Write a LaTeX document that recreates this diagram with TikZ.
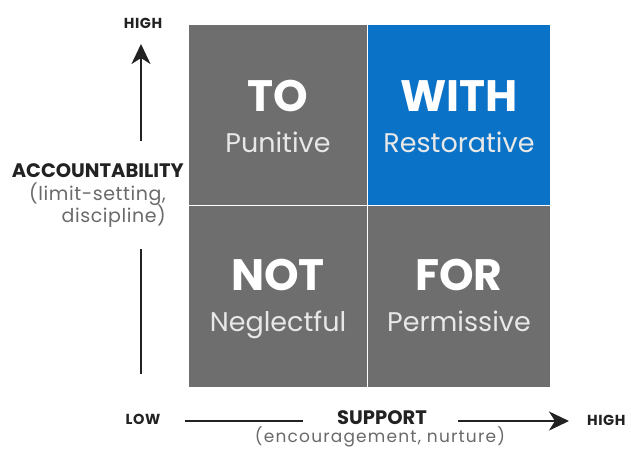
\documentclass[tikz,border=0pt]{standalone}
\usepackage{fontspec}
\setmainfont{Poppins}
\usetikzlibrary{arrows.meta}
\definecolor{cellgray}{HTML}{6E6E6F}
\definecolor{cellblue}{HTML}{0B73C7}
\definecolor{labdark}{HTML}{222222}
\definecolor{labgray}{HTML}{6A6A6A}
\definecolor{subwhite}{HTML}{E8E8E8}
\tikzset{
  cell/.style={draw=none, inner sep=0pt, anchor=north west},
  title/.style={anchor=base, text=white, inner sep=0pt, font=\fontsize{44}{44}\selectfont\bfseries},
  sub/.style={anchor=base, text=subwhite, inner sep=0pt, font=\fontsize{27}{27}\selectfont},
  axisbig/.style={inner sep=0pt, text=labdark, font=\fontsize{19.5}{19.5}\selectfont\bfseries},
  axissmall/.style={inner sep=0pt, text=labdark, font=\fontsize{14.5}{14.5}\selectfont\bfseries\addfontfeature{LetterSpace=4}},
  axissub/.style={inner sep=0pt, text=labgray, font=\fontsize{19}{19}\selectfont\addfontfeature{LetterSpace=3}},
  axissubb/.style={inner sep=0pt, text=labgray, font=\fontsize{17}{17}\selectfont\addfontfeature{LetterSpace=7}},
  axisline/.style={draw=labdark, line width=2.4pt},
  axisarrow/.style={axisline, -{Stealth[length=20pt, width=19pt, inset=6pt]}}
}
\begin{document}
\begin{tikzpicture}[x=1pt, y=-1pt]
\useasboundingbox (0,0) rectangle (631,448);
\fill[white] (0,0) rectangle (631,448);
% cells
\node[cell, fill=cellgray, minimum width=178pt, minimum height=180pt] (tl) at (189,25) {};
\node[cell, fill=cellblue, minimum width=182pt, minimum height=180pt] (tr) at (368,25) {};
\node[cell, fill=cellgray, minimum width=178pt, minimum height=181pt] (bl) at (189,206) {};
\node[cell, fill=cellgray, minimum width=182pt, minimum height=181pt] (br) at (368,206) {};
% cell texts
\node[title] (to) at (278,111) {TO};
\node[sub] (punitive) at (278,152) {Punitive};
\node[title] (with) at (459,111) {WITH};
\node[sub] (restorative) at (459,152) {Restorative};
\node[title] (not) at (278,290) {NOT};
\node[sub] (neglectful) at (278,331) {Neglectful};
\node[title] (for) at (459,290) {FOR};
\node[sub] (permissive) at (459,331) {Permissive};
% vertical axis
\node[axissmall, anchor=base] (vhigh) at (143,28) {HIGH};
\node[axisbig, anchor=base east] (acc) at (184,177) {ACCOUNTABILITY};
\node[axissub, anchor=base east] (acc1) at (166,200) {(limit-setting,};
\node[axissub, anchor=base east] (acc2) at (166,222) {discipline)};
\coordinate (vtop) at (141,44);
\coordinate (vmid1) at (141,141);
\coordinate (vmid2) at (141,249);
\coordinate (vbot) at (141,374);
\draw[axisarrow] (vmid1) -- (vtop);
\draw[axisline] (vmid2) -- (vbot);
% horizontal axis
\node[axissmall, anchor=base] (low) at (143,424) {LOW};
\node[axisbig, anchor=base] (support) at (382,424) {SUPPORT};
\node[axissubb, anchor=base] (supsub) at (380,442) {(encouragement, nurture)};
\node[axissmall, anchor=base west] (hhigh) at (587,425) {HIGH};
\coordinate (hl1) at (185,421);
\coordinate (hl2) at (303,421);
\coordinate (hr1) at (458,421);
\coordinate (hr2) at (569,421);
\draw[axisline] (hl1) -- (hl2);
\draw[axisarrow] (hr1) -- (hr2);
\end{tikzpicture}
\end{document}
